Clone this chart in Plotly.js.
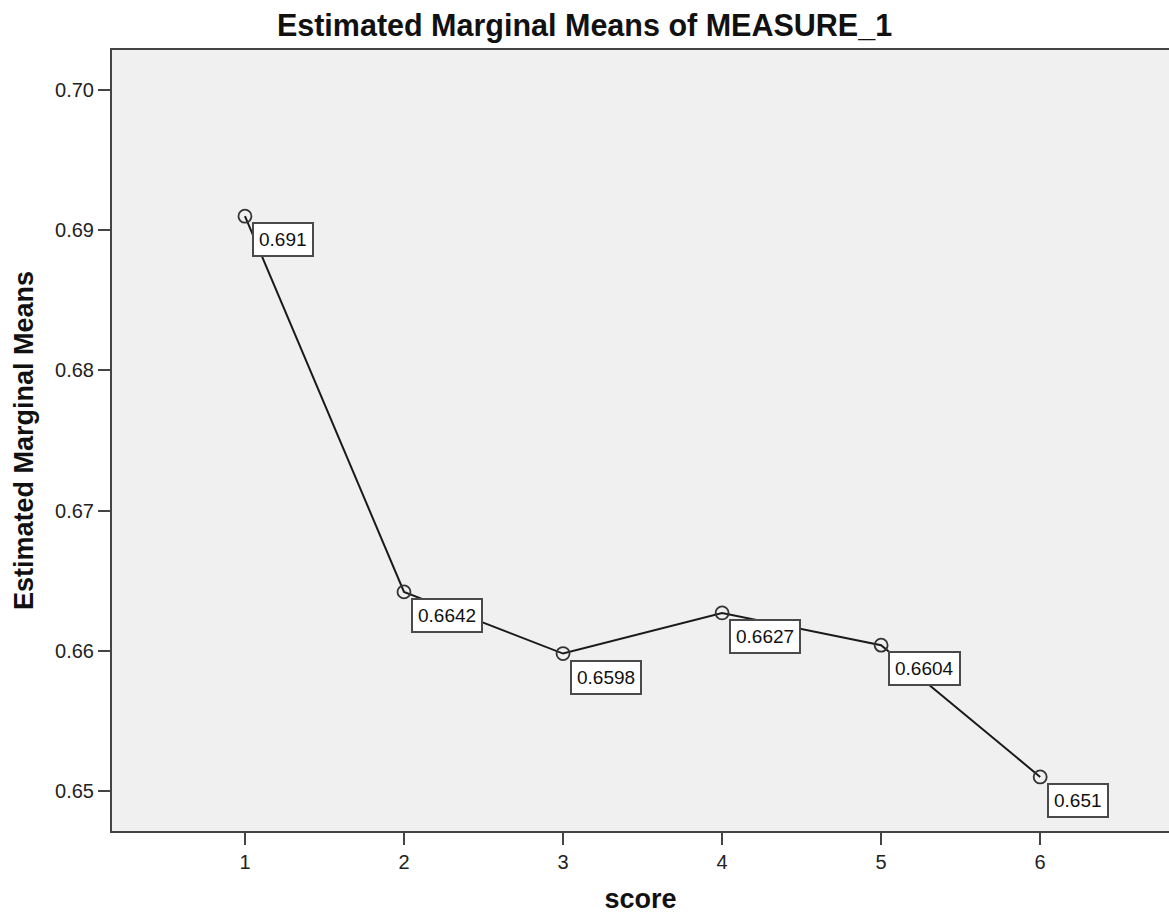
<!DOCTYPE html>
<html><head><meta charset="utf-8">
<script src="https://cdn.plot.ly/plotly-3.0.1.min.js"></script>
<style>html,body{margin:0;padding:0;background:#fff}</style>
</head><body><div id="chart" style="width:1169px;height:914px"></div>
<script>
const scores = [1, 2, 3, 4, 5, 6];
const means = [0.691, 0.6642, 0.6598, 0.6627, 0.6604, 0.651];
const meanLabels = ['0.691', '0.6642', '0.6598', '0.6627', '0.6604', '0.651'];
const yTicks = [0.65, 0.66, 0.67, 0.68, 0.69, 0.70];
const yTickText = ['0.65', '0.66', '0.67', '0.68', '0.69', '0.70'];

const FONT = 'Arial, Liberation Sans, sans-serif';

const trace = {
  x: scores, y: means, type: 'scatter', mode: 'lines+markers',
  line: {color: '#1a1a1a', width: 2},
  marker: {symbol: 'circle-open', size: 13, color: '#333', line: {width: 1.8, color: '#333'}},
  hoverinfo: 'skip'
};

const annotations = scores.map((s, i) => ({
  x: s, y: means[i], xref: 'x', yref: 'y', text: meanLabels[i], showarrow: false,
  xanchor: 'left', yanchor: 'top', xshift: 7, yshift: -6,
  font: {family: FONT, size: 19, color: '#111'},
  bgcolor: '#ffffff', bordercolor: '#4a4a4a', borderwidth: 2, borderpad: 5
}));

const layout = {
  width: 1169, height: 914,
  margin: {l: 112, r: 0, t: 50, b: 83},
  paper_bgcolor: '#ffffff', plot_bgcolor: '#f0f0f0',
  showlegend: false,
  title: {text: 'Estimated Marginal Means of MEASURE_1', x: 0.5, xref: 'container', xanchor: 'center',
          y: 1 - 25 / 914, yref: 'container', yanchor: 'middle',
          font: {family: FONT, size: 30.5, color: '#111', weight: 'bold'}},
  xaxis: {range: [0.164, 6.81], tickvals: scores, ticktext: scores.map(String),
          showgrid: false, zeroline: false, showline: true, linecolor: '#444', linewidth: 2, mirror: true,
          ticks: 'outside', ticklen: 12, tickwidth: 2, tickcolor: '#444',
          tickfont: {family: FONT, size: 20, color: '#222'},
          title: {text: 'score', standoff: 24, font: {family: FONT, size: 27, color: '#111', weight: 'bold'}}},
  yaxis: {range: [0.647143, 0.702857], tickvals: yTicks, ticktext: yTickText,
          showgrid: false, zeroline: false, showline: true, linecolor: '#444', linewidth: 2,
          ticks: 'outside', ticklen: 12, tickwidth: 2, tickcolor: '#444',
          tickfont: {family: FONT, size: 20, color: '#222'},
          title: {text: 'Estimated Marginal Means', standoff: 14, font: {family: FONT, size: 27, color: '#111', weight: 'bold'}}},
  annotations: annotations
};

Plotly.newPlot('chart', [trace], layout, {displayModeBar: false, staticPlot: true});
</script></body></html>
